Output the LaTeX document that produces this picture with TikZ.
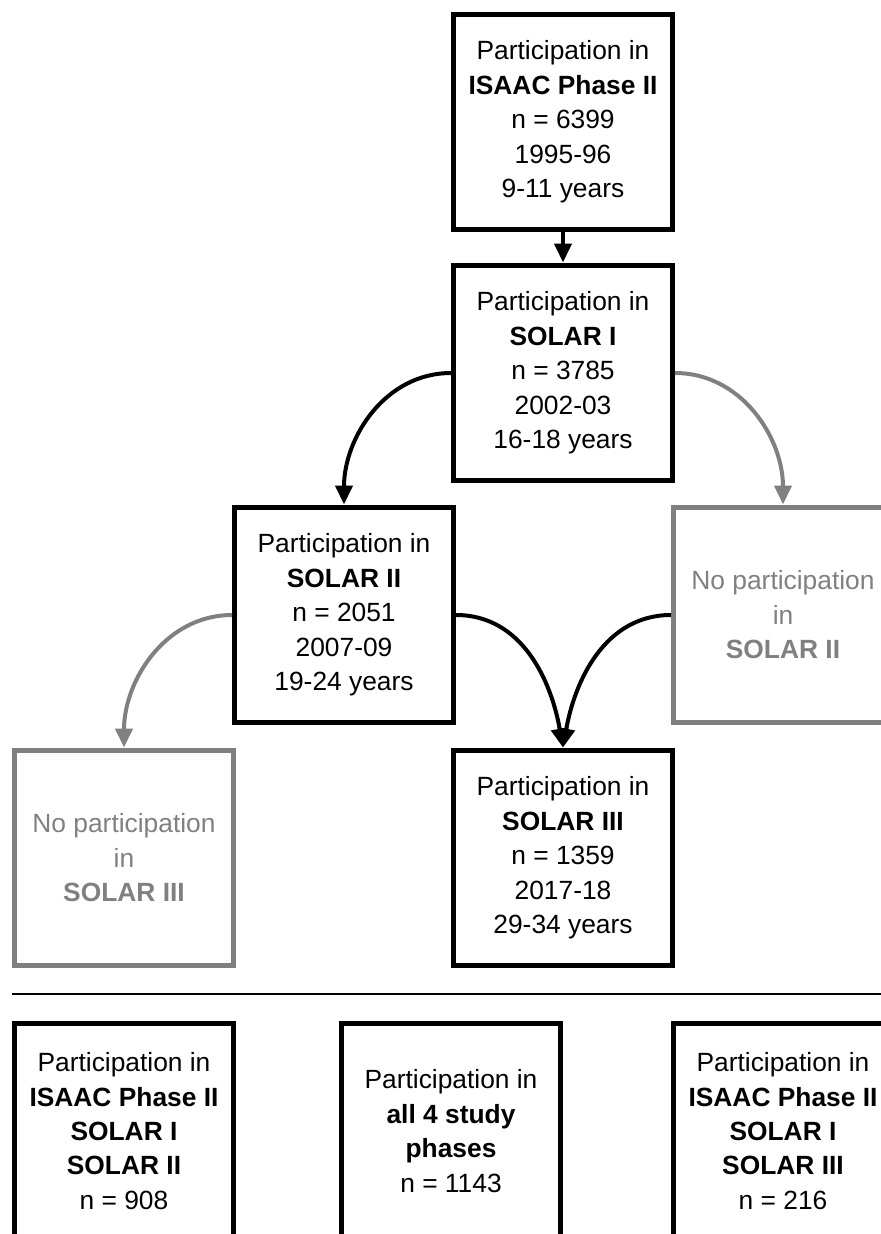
\documentclass[tikz,border=0pt]{standalone}
\usepackage{fontspec}
\setmainfont{Liberation Sans}
\usetikzlibrary{arrows.meta}
\definecolor{nogray}{RGB}{128,128,128}

\begin{document}
\begin{tikzpicture}[x=0.02cm,y=0.02cm,
  font=\fontsize{15}{19.6}\selectfont,
  ar/.style={line width=0.08cm,-{Triangle[length=3.8mm,width=3.4mm]}},
  gar/.style={ar,draw=nogray},
  bx/.style={draw,line width=0.1cm,minimum width=4.38cm,minimum height=4.32cm,align=center,inner sep=0pt},
  nobx/.style={bx,draw=nogray,text=nogray}]
\useasboundingbox (0,0) rectangle (881,-1234);
\clip (0,0) rectangle (881,-1234);

\node[bx] (isaac) at (563,-122) {Participation in\\\textbf{ISAAC Phase II}\\n = 6399\\1995-96\\9-11 years};
\node[bx] (sol1) at (563,-373) {Participation in\\\textbf{SOLAR I}\\n = 3785\\2002-03\\16-18 years};
\node[bx] (sol2) at (344,-615) {Participation in\\\textbf{SOLAR II}\\n = 2051\\2007-09\\19-24 years};
\node[nobx] (nosol2) at (783,-615) {No participation\\in\\\textbf{SOLAR II}};
\node[nobx] (nosol3) at (124,-858) {No participation\\in\\\textbf{SOLAR III}};
\node[bx] (sol3) at (563,-858) {Participation in\\\textbf{SOLAR III}\\n = 1359\\2017-18\\29-34 years};

\draw[ar] (isaac) -- (sol1);
\draw[ar] (sol1.west) to[out=180,in=90] (sol2.north);
\draw[gar] (sol1.east) to[out=0,in=90] (nosol2.north);
\draw[gar] (sol2.west) to[out=180,in=90] (nosol3.north);
\draw[ar] (sol2.east) to[out=0,in=100] (sol3.north);
\draw[ar] (nosol2.west) to[out=180,in=80] (sol3.north);

\draw[line width=0.055cm] (12,-994) -- (900,-994);

\node[bx] (sum1) at (124,-1131) {Participation in\\\textbf{ISAAC Phase II}\\\textbf{SOLAR I}\\\textbf{SOLAR II}\\n = 908};
\node[bx] (sum2) at (451,-1131) {Participation in\\\textbf{all 4 study}\\\textbf{phases}\\n = 1143};
\node[bx] (sum3) at (783,-1131) {Participation in\\\textbf{ISAAC Phase II}\\\textbf{SOLAR I}\\\textbf{SOLAR III}\\n = 216};
\end{tikzpicture}
\end{document}
